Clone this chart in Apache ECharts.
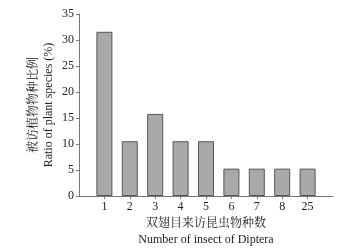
<!DOCTYPE html>
<html><head><meta charset="utf-8">
<script src="https://cdn.jsdelivr.net/npm/echarts@6/dist/echarts.min.js"></script>
<style>html,body{margin:0;padding:0;background:#fff}#c{width:341px;height:252px}</style>
</head><body><div id="c"></div>
<script>
const categories = ['1','2','3','4','5','6','7','8','25'];
const values = [31.58, 10.53, 15.79, 10.53, 10.53, 5.26, 5.26, 5.26, 5.26];
const yTicks = [0, 5, 10, 15, 20, 25, 30, 35];
const xTitle = '双翅目来访昆虫物种数\nNumber of insect of Diptera';
const yTitle = '被访植物物种比例\nRatio of plant species (%)';

const xData = [''].concat(categories, ['']);
const sData = [null].concat(values, [null]);
const font = '"Liberation Serif","Noto Serif CJK SC","Noto Sans CJK SC",serif';
const axisCol = '#777';
const chart = echarts.init(document.getElementById('c'));
chart.setOption({
  animation: false,
  grid: {left: 79, right: 8, top: 14, bottom: 56, containLabel: false, outerBoundsMode: 'none'},
  xAxis: {
    type: 'category', data: xData, boundaryGap: false,
    axisLine: {lineStyle: {color: axisCol, width: 1}},
    axisTick: {length: 3, lineStyle: {color: axisCol}, interval: (i, v) => v !== ''},
    axisLabel: {color: '#222', fontFamily: font, fontSize: 12, margin: 5, interval: 0},
    name: xTitle, nameLocation: 'middle', nameGap: 20, nameMoveOverlap: false,
    nameTextStyle: {color: '#222', fontFamily: font, fontSize: 12, lineHeight: 16}
  },
  yAxis: {
    type: 'value', min: yTicks[0], max: yTicks[yTicks.length-1], interval: 5,
    splitLine: {show: false},
    axisLine: {show: true, lineStyle: {color: axisCol, width: 1}},
    axisTick: {show: true, length: 3, lineStyle: {color: axisCol}},
    axisLabel: {color: '#222', fontFamily: font, fontSize: 12, margin: 5},
    name: yTitle, nameLocation: 'middle', nameGap: 23, nameRotate: 90, nameMoveOverlap: false,
    nameTextStyle: {color: '#222', fontFamily: font, fontSize: 12, lineHeight: 15}
  },
  series: [{
    type: 'bar', data: sData, barWidth: 16,
    itemStyle: {color: '#a9a9a9', borderColor: '#555', borderWidth: 1}
  }]
});
</script></body></html>
